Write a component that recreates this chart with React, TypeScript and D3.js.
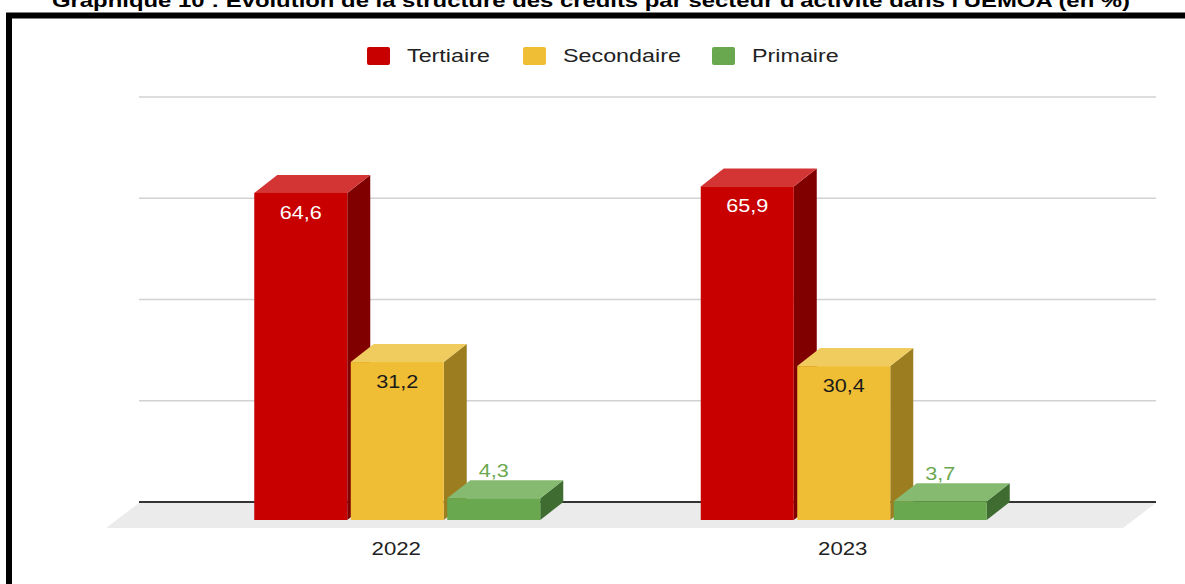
import * as d3 from "d3";

const years = ["2022", "2023"];
const series = ["Tertiaire", "Secondaire", "Primaire"];
const tertiaire = [64.6, 65.9];
const secondaire = [31.2, 30.4];
const primaire = [4.3, 3.7];
const gridTicks = [0, 20, 40, 60, 80];
const title =
  "Graphique 10 : Evolution de la structure des crédits par secteur d'activité dans l'UEMOA (en %)";

const values = [tertiaire, secondaire, primaire];

// front / top / side shades for each series
const colors = [
  { front: "#c80000", top: "#d33535", side: "#800000", label: "#ffffff", inside: true },
  { front: "#efbe34", top: "#f0cb5d", side: "#9c7e20", label: "#1a1a1a", inside: true },
  { front: "#6aa84f", top: "#86ba71", side: "#3f6c31", label: "#6aa84f", inside: false },
];

const width = 1185;
const height = 584;
const dx = 23; // depth offset
const dy = 18;
const font = "'Liberation Sans', Arial, sans-serif";
const sx = 1.17; // the picture is slightly stretched horizontally

function Txt({ x, y, size, fill = "#222", weight = "normal", children }: any) {
  return (
    <text
      transform={`translate(${x},${y}) scale(${sx},1)`}
      textAnchor="middle"
      fontFamily={font}
      fontSize={size}
      fontWeight={weight}
      fill={fill}
    >
      {children}
    </text>
  );
}

export default function App() {
  const plotLeft = 139;
  const plotRight = 1156;

  const y = d3.scaleLinear().domain([0, 80]).range([502, 97]);
  const x0 = d3.scaleBand().domain(years).range([174, 1067]);
  const x1 = d3.scaleBand().domain(series).range([0, 286]).paddingInner(0.036);
  const bw = x1.bandwidth();

  const legendX = [367, 523, 712];

  return (
    <svg
      width={width}
      height={height}
      style={{ position: "absolute", left: 0, top: 0, background: "#fff" }}
    >
      <text
        x={52}
        y={7}
        textLength={1078}
        lengthAdjust="spacingAndGlyphs"
        fontFamily={font}
        fontWeight="bold"
        fontSize={18}
        fill="#000"
      >
        {title}
      </text>
      <rect x={9} y={15.5} width={1300} height={700} fill="none" stroke="#000" strokeWidth={6} />

      {/* legend */}
      {series.map((s, i) => (
        <g key={s}>
          <rect x={legendX[i]} y={47} width={23} height={18} rx={2} fill={colors[i].front} />
          <text
            transform={`translate(${legendX[i] + 40},62) scale(1.26,1)`}
            fontFamily={font}
            fontSize={18.5}
            fill="#222"
          >
            {s}
          </text>
        </g>
      ))}

      {/* floor */}
      <polygon
        points={`${plotLeft},${y(0) + 1} ${plotRight},${y(0) + 1} ${plotRight - 33},${y(0) + 26} ${plotLeft - 33},${y(0) + 26}`}
        fill="#ebebeb"
      />

      {/* grid */}
      {gridTicks.map((t) => (
        <line
          key={t}
          x1={plotLeft}
          x2={plotRight}
          y1={y(t)}
          y2={y(t)}
          stroke={t === 0 ? "#333" : "#d2d2d2"}
          strokeWidth={t === 0 ? 2 : 1.5}
        />
      ))}

      {/* bars */}
      {years.map((yr, j) => {
        const gx = x0(yr)! + x0.bandwidth() / 2 - 143;
        return (
          <g key={yr}>
            {series.map((s, i) => {
              const v = values[i][j];
              const xf = gx + x1(s)!;
              const yt = y(v) + dy;
              const yb = y(0) + dy;
              const c = colors[i];
              return (
                <g key={s}>
                  <polygon
                    points={`${xf + bw},${yt} ${xf + bw + dx},${yt - dy} ${xf + bw + dx},${yb - dy} ${xf + bw},${yb}`}
                    fill={c.side}
                  />
                  <polygon
                    points={`${xf},${yt} ${xf + bw},${yt} ${xf + bw + dx},${yt - dy} ${xf + dx},${yt - dy}`}
                    fill={c.top}
                  />
                  <rect x={xf} y={yt} width={bw} height={yb - yt} fill={c.front} />
                  <Txt
                    x={xf + bw / 2}
                    y={c.inside ? yt + 26 : yt - dy - 3}
                    size={18.5}
                    fill={c.label}
                  >
                    {d3.format(".1f")(v).replace(".", ",")}
                  </Txt>
                </g>
              );
            })}
            <Txt x={x0(yr)! + x0.bandwidth() / 2 - 1} y={555} size={19} fill="#222">
              {yr}
            </Txt>
          </g>
        );
      })}
    </svg>
  );
}
